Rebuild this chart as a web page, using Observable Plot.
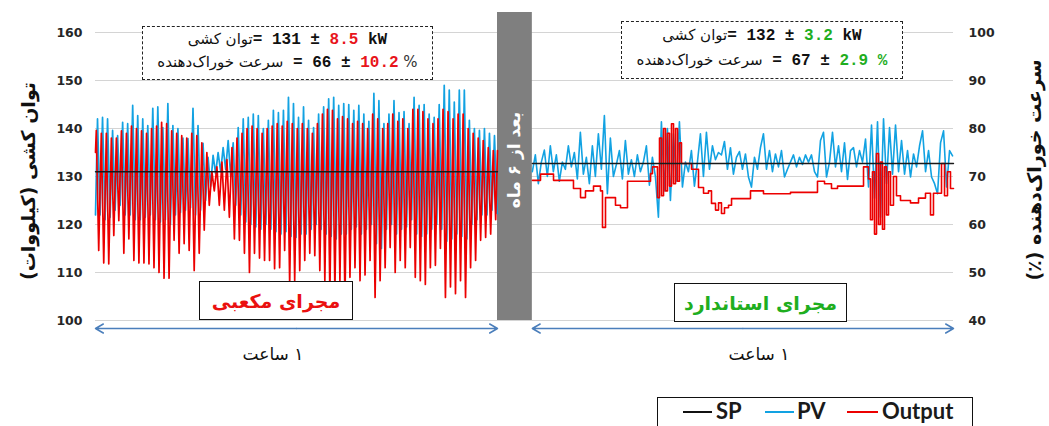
<!DOCTYPE html>
<html>
<head>
<meta charset="utf-8">
<script src="https://cdn.jsdelivr.net/npm/d3@7"></script>
<script src="https://cdn.jsdelivr.net/npm/@observablehq/plot@0.6"></script>
<style>
  html, body { margin: 0; padding: 0; background: #fff; overflow: hidden; }
  #wrap { position: relative; width: 1049px; height: 426px; overflow: hidden; background: #fff; }
  #wrap svg { position: absolute; left: 0; top: 0; }
  .ov { position: absolute; box-sizing: border-box; }
  .fa { font-family: "DejaVu Sans", sans-serif; }
  .num { font-family: "Liberation Mono", monospace; font-weight: bold; }
  .dashbox { border: 1.5px dashed #222; background: #fff; }
  .line { position: absolute; left: 0; right: 0; display: flex; justify-content: center; align-items: baseline; white-space: pre; direction: ltr; color: #111; }
  .solidbox { border: 1.5px solid #111; background: #fff; display: flex; align-items: center; justify-content: center; font-weight: bold; }
  .rot { position: absolute; transform: translate(-50%, -50%) rotate(-90deg); white-space: nowrap; }
  .leg { position: absolute; font-family: Lato, "Open Sans", sans-serif; font-weight: bold; font-size: 22px; color: #1a1a1a; line-height: 22px; }
  .legline { position: absolute; height: 0; border-top-width: 2px; border-top-style: solid; }
</style>
</head>
<body>
<div id="wrap"></div>
<script>
// ---------------- data ----------------
const leftTicks  = [100, 110, 120, 130, 140, 150, 160];   // توان کشی (kW)
const rightTicks = [40, 50, 60, 70, 80, 90, 100];         // سرعت خوراک‌دهنده (%)
const spLeft = 131;      // kW, cubic chute
const spRight = 132.7;   // kW, standard chute

// Left hour (cubic chute): one entry per oscillation cycle
const leftPeriod = 0.75;           // minutes per cycle
const leftStartPV = 122, leftEndPV = 122.3;
const leftStartOut = 75, leftEndOut = 75.4;
const pvHi = [142, 142.3, 142, 139.6, 138.5, 141.3, 141, 144.8, 142.7, 142, 140.6, 144.2, 144.5, 140.2, 145.2, 140.6, 140, 138, 137.9, 144.2, 140.6, 136.9, 134, 134.4, 135, 136, 137.5,
  137, 140.2, 142, 142.3, 143, 142.7, 140, 141.7, 143.8, 143.3, 143.8, 146.5, 145.2, 142.3, 144.5, 141.7, 140.2, 143, 144.5, 146.2, 146.5, 144.8, 145.2, 145, 143.8, 144.8,
  143, 141.5, 147.3, 145.8, 141, 143, 145.8, 143.3, 143.5, 141, 146.5, 144.8, 145, 143, 142.3, 145, 149, 148, 145.5, 148, 148, 141.7, 140, 139.6, 140, 139, 138.5];
const pvLo = [122, 121, 121.5, 123, 124, 122, 122, 121, 121, 121.5, 122, 121, 120.5, 121, 120, 122, 122.5, 123, 123.5, 122, 123, 125, 128, 130.6, 131, 131.5, 130,
  124, 122, 120.5, 120, 119.5, 119, 120, 119, 118.5, 118, 118.5, 117.5, 117.3, 118, 118, 119, 120, 119, 118, 117.5, 117, 118, 118, 119, 119.5, 118,
  119, 120, 116, 115, 119, 120, 118, 119, 119.5, 121, 118, 117.5, 118, 119, 120, 119, 116.5, 117, 118, 117.5, 117, 120, 121, 122, 122, 123, 122.3];
const outHi = [79.6, 79, 79, 78, 78, 79.5, 79, 80.5, 80, 79.5, 79, 80, 80.5, 81.3, 81, 79.5, 79, 78.5, 78, 79, 78.5, 77, 75, 71, 72, 73, 73.5,
  76, 78, 79, 80, 80.5, 80, 79, 80, 80.5, 81, 80.5, 81.5, 81, 80, 81, 80, 79, 81, 83, 84, 83.8, 82, 82.5, 82, 81, 81.5,
  81, 80, 83, 82, 80, 81, 83, 81.5, 82, 80, 84, 84, 83.5, 82, 81, 82, 84, 83.5, 82, 83, 83, 80, 79, 78, 77.5, 76, 75.4];
const outLo = [54.6, 52, 51.8, 57.7, 60.8, 54, 57, 52.5, 52, 52, 51.8, 51, 50, 48.8, 48.8, 56.7, 54, 56, 54.6, 50.4, 54, 58.8, 64, 67, 64, 63, 61.5,
  57, 56.7, 54, 50, 54, 53, 52.5, 52.5, 50.8, 51, 54.6, 47.7, 48.3, 50.4, 52.5, 54, 53.5, 50.4, 48.3, 45.6, 46.2, 48.3, 44.2, 49, 51, 48.3,
  49.5, 52.5, 44.8, 48.3, 51, 55.2, 50, 52.5, 51, 55.2, 49, 48.3, 47.5, 51, 51.5, 55, 44.8, 47, 45.6, 48.3, 44.8, 51, 52.5, 56.7, 57.3, 58, 61];

// Right hour (standard chute), after 6 months
const rightStart = 65.2, rightStep = 0.448, rightEnd = 128.06;
const rightPV = [131, 134.5, 128.5, 133, 135.5, 130, 136.4, 131, 134.5, 129,
  133, 131.5, 136.4, 132, 135, 129.5, 139.2, 130.5, 134, 128.5,
  136.4, 130, 138.9, 131.5, 142.7, 126.4, 138, 130, 132.5, 135.4,
  129.5, 137.5, 130.5, 133.5, 130, 134.5, 131, 133, 136.4, 128.2,
  134, 130, 121.5, 141.4, 127, 140, 125, 138.9, 129, 141.4,
  127.8, 133, 131, 135.4, 128, 133, 138.9, 130, 139.2, 131.5,
  136.4, 133.5, 135, 134.5, 137.3, 131.5, 136, 130.5, 134, 135.2,
  131.5, 134.7, 129.9, 127.8, 134, 131.5, 136, 138.9, 131.5, 135.4,
  131, 134.7, 132, 135.4, 129.9, 131.5, 133, 134.5, 132, 134,
  132.5, 134.5, 133, 134.5, 131, 129.9, 137.5, 139.2, 129.9, 133,
  139.2, 132, 136.4, 131, 137, 129.4, 135.4, 136, 132, 135.4,
  133, 137.8, 127.8, 140.7, 125.5, 141.4, 121.5, 142, 128.5, 140.2,
  130.5, 140.7, 131, 137.5, 130.5, 135.4, 129.9, 134.7, 132, 136.4,
  139.5, 131, 135.4, 129.9, 128.5, 126.4, 137, 139.5, 127.8, 135.4,
  134.3];
const rightOutT = [65.22, 66.42, 68.36, 71.34, 72.39, 73.13, 74.33, 75.37, 75.67, 76.12, 77.61, 78.36, 79.40, 82.84, 83.13,
  83.88, 84.18, 84.48, 84.78, 85.07, 85.37, 85.67, 85.97, 86.27, 86.57, 86.87, 87.16, 87.46, 88.96,
  90.00, 90.75, 91.49, 91.94, 92.54, 92.99, 93.43, 93.88, 94.48, 94.93, 97.76, 99.70, 103.73, 107.76, 108.81, 109.85, 110.75,
  114.63, 115.37, 115.67, 115.97, 116.27, 116.57, 116.87, 117.16, 117.46, 117.76, 118.06, 118.36, 118.66, 119.10, 119.55,
  120.15, 121.64, 122.84, 123.88, 124.63, 125.07, 126.27, 126.72, 127.16, 127.61, 128.06];
const rightOutV = [69.2, 70.5, 69.2, 67.5, 65.6, 67.0, 68.0, 67.0, 59.4, 65.6, 64.0, 63.5, 69.0, 70.6, 72.0,
  65.6, 78.0, 66.0, 80.0, 67.0, 79.0, 68.0, 81.0, 68.5, 80.0, 69.0, 77.0, 72.7, 71.5,
  67.7, 66.5, 67.0, 64.4, 63.0, 64.5, 62.3, 63.5, 64.0, 65.4, 67.0, 66.4, 66.7, 69.0, 68.5, 67.5, 68.0,
  72.0, 69.5, 61, 71, 58, 74.8, 60, 73, 59, 72, 62, 71, 64, 70, 66,
  65.0, 64.5, 65.5, 66.5, 62.0, 66.5, 72.7, 66.0, 71.0, 67.5, 67.5];

// ---------------- build series ----------------
const off = leftTicks[0] - rightTicks[0];   // secondary axis offset
const leftEnd = pvHi.length * leftPeriod;

const leftPV = [{t: 0, v: leftStartPV}];
pvHi.forEach((h, k) => leftPV.push({t: k * leftPeriod + 0.3, v: h}, {t: k * leftPeriod + 0.68, v: pvLo[k]}));
leftPV.push({t: leftEnd, v: leftEndPV});

const leftOut = [{t: 0, v: leftStartOut + off}];
outHi.forEach((h, k) => leftOut.push({t: k * leftPeriod + 0.12, v: h + off}, {t: k * leftPeriod + 0.48, v: outLo[k] + off}));
leftOut.push({t: leftEnd, v: leftEndOut + off});

const rPV = rightPV.map((v, i) => ({t: rightStart + i * rightStep, v}));
const rOut = rightOutT.map((t, i) => ({t, v: rightOutV[i] + off}));

const spData = [
  {g: "L", t: 0, v: spLeft}, {g: "L", t: leftEnd, v: spLeft},
  {g: "R", t: rightStart, v: spRight}, {g: "R", t: rightEnd, v: spRight}
];

const leftMid = leftEnd / 2, rightMid = (rightStart + rightEnd) / 2;
const arrows = [
  {a: leftMid, b: 0, s: 2}, {a: leftMid, b: leftEnd, s: 7},
  {a: rightMid, b: rightStart, s: 3}, {a: rightMid, b: rightEnd, s: 1}
];

const BLUE = "#12a2e2", RED = "#ec0000";

const chart = Plot.plot({
  width: 1049, height: 392,
  marginLeft: 95, marginRight: 96, marginTop: 32, marginBottom: 72,
  x: {domain: [0, rightEnd], axis: null},
  y: {domain: [leftTicks[0], leftTicks[leftTicks.length - 1]], axis: null},
  style: {fontFamily: "DejaVu Sans, sans-serif", background: "transparent", overflow: "visible"},
  marks: [
    Plot.gridY(leftTicks, {stroke: "#d4d4d4", strokeOpacity: 1, strokeWidth: 1}),
    Plot.rect([{x1: leftEnd, x2: rightStart}], {x1: "x1", x2: "x2", y1: () => leftTicks[0], y2: () => leftTicks[leftTicks.length - 1], insetTop: -20, fill: "#7f7f7f"}),
    Plot.line(leftPV, {x: "t", y: "v", stroke: BLUE, strokeWidth: 1.7}),
    Plot.line(rPV, {x: "t", y: "v", stroke: BLUE, strokeWidth: 1.6}),
    Plot.line(leftOut, {x: "t", y: "v", stroke: RED, strokeWidth: 1.7}),
    Plot.line(rOut, {x: "t", y: "v", stroke: RED, strokeWidth: 1.6, curve: "step-after"}),
    Plot.line(spData, {x: "t", y: "v", z: "g", stroke: "#1a1a1a", strokeWidth: 1.4}),
    Plot.axisY(leftTicks, {anchor: "left", tickSize: 0, tickPadding: 13, fontSize: 12.5, fontWeight: "bold", fill: "#262626", label: null, fontFamily: "DejaVu Sans"}),
    Plot.axisY(leftTicks, {anchor: "right", tickSize: 0, tickPadding: 15, fontSize: 12.5, fontWeight: "bold", fill: "#262626", label: null, fontFamily: "DejaVu Sans",
      tickFormat: d => rightTicks[leftTicks.indexOf(d)]}),
    Plot.arrow(arrows, {x1: "a", x2: "b", y1: () => leftTicks[0], y2: () => leftTicks[0], dy: 8,
      stroke: "#4a7ebb", strokeWidth: 1.5, headLength: 9, insetEnd: d => d.s, bend: 0})
  ]
});

const wrap = document.getElementById("wrap");
wrap.appendChild(chart);

function add(html) { wrap.insertAdjacentHTML("beforeend", html); }

// annotation boxes (stats)
add(`<div class="ov dashbox" style="left:142px;top:26px;width:291px;height:54px;">
  <div class="line" style="top:3px;"><span dir="rtl" class="fa" style="font-size:15px;">توان کشی</span><span class="num" style="font-size:16px;">= 131 ± </span><span class="num" style="font-size:16px;color:#e8141b;">8.5</span><span class="num" style="font-size:16px;"> kW</span></div>
  <div class="line" style="top:26px;"><span dir="rtl" class="fa" style="font-size:15px;">سرعت خوراک‌دهنده</span><span class="num" style="font-size:16px;"> = 66 ± </span><span class="num" style="font-size:16px;color:#e8141b;">10.2</span><span class="fa" style="font-size:15px;color:#333;"> %</span></div>
</div>`);
add(`<div class="ov dashbox" style="left:621px;top:21px;width:282px;height:58px;">
  <div class="line" style="top:4px;"><span dir="rtl" class="fa" style="font-size:15px;">توان کشی</span><span class="num" style="font-size:16px;">= 132 ± </span><span class="num" style="font-size:16px;color:#1fae1f;">3.2</span><span class="num" style="font-size:16px;"> kW</span></div>
  <div class="line" style="top:29px;"><span dir="rtl" class="fa" style="font-size:15px;">سرعت خوراک‌دهنده</span><span class="num" style="font-size:16px;"> = 67 ± </span><span class="num" style="font-size:16px;color:#1fae1f;">2.9 %</span></div>
</div>`);

// chute labels
add(`<div class="ov solidbox fa" dir="rtl" style="left:199px;top:281px;width:154px;height:39px;color:#ea1010;font-size:19px;">مجرای مکعبی</div>`);
add(`<div class="ov solidbox fa" dir="rtl" style="left:674px;top:283px;width:173px;height:39px;color:#1fae1f;font-size:19px;">مجرای استاندارد</div>`);

// hour labels
add(`<div class="ov fa" dir="rtl" style="left:213px;top:344px;width:120px;text-align:center;font-size:17px;color:#111;">۱ ساعت</div>`);
add(`<div class="ov fa" dir="rtl" style="left:699px;top:344px;width:120px;text-align:center;font-size:17px;color:#111;">۱ ساعت</div>`);

// gap label
add(`<div class="rot fa" dir="rtl" style="left:514px;top:160px;color:#fff;font-weight:bold;font-size:17px;">بعد از ۶ ماه</div>`);

// axis titles
add(`<div class="rot fa" dir="rtl" style="left:28px;top:181px;color:#111;font-weight:bold;font-size:19px;">توان کشی (کیلووات)</div>`);
add(`<div class="rot fa" dir="rtl" style="left:1034px;top:170px;color:#111;font-weight:bold;font-size:19px;">سرعت خوراک‌دهنده (٪)</div>`);

// legend
add(`<div class="ov" style="left:657px;top:397px;width:316px;height:40px;border:1.5px solid #111;background:#fff;">
  <div class="legline" style="left:25px;top:13px;width:29px;border-top-color:#111;"></div>
  <div class="leg" style="left:58px;top:2px;">SP</div>
  <div class="legline" style="left:107px;top:13px;width:29px;border-top-color:${BLUE};"></div>
  <div class="leg" style="left:139px;top:2px;">PV</div>
  <div class="legline" style="left:189px;top:13px;width:31px;border-top-color:${RED};"></div>
  <div class="leg" style="left:224px;top:2px;">Output</div>
</div>`);
</script>
</body>
</html>
